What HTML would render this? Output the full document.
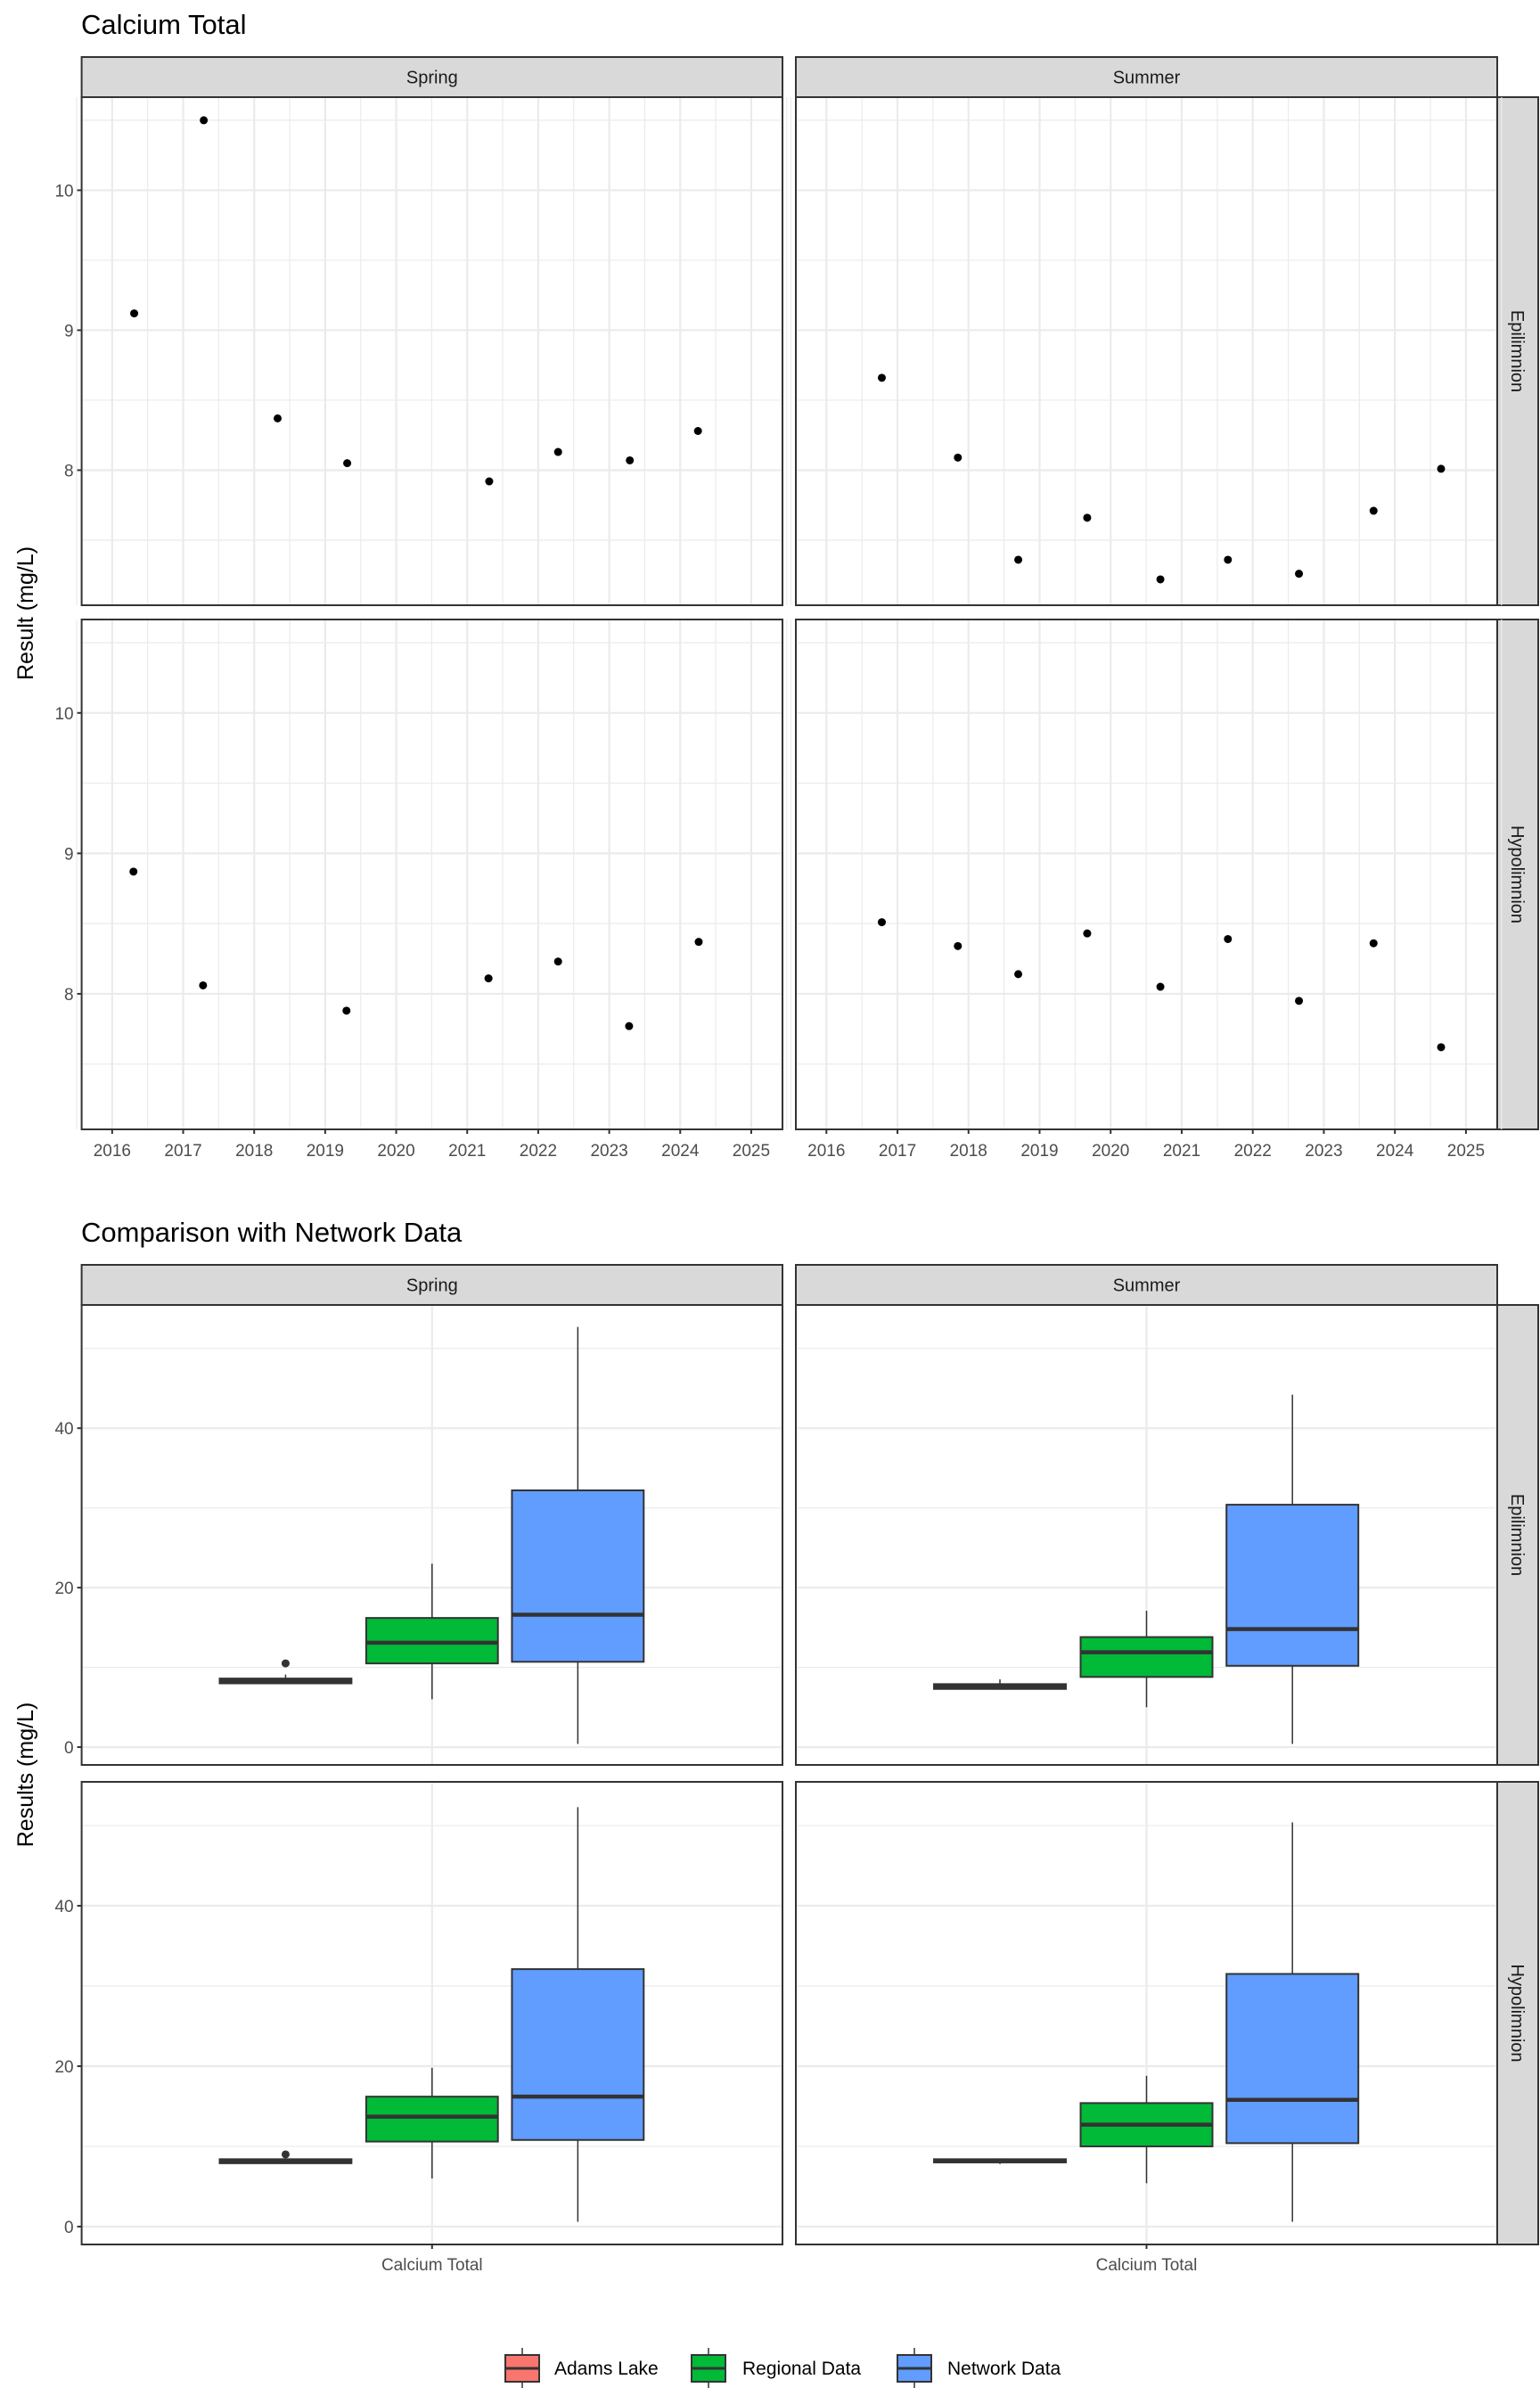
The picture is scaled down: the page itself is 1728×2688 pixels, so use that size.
<!DOCTYPE html>
<html><head><meta charset="utf-8"><style>
body{margin:0;background:#fff}
svg{display:block;font-family:"Liberation Sans",Arial,sans-serif}
</style></head><body>
<svg id="c" width="1728" height="2688" viewBox="0 0 1728 2688"></svg>
<script>
// ---- Data: scatter ----
const seasons = ["Spring","Summer"];
const layers = ["Epilimnion","Hypolimnion"];
const xTicks = [2016,2017,2018,2019,2020,2021,2022,2023,2024,2025];
const yTicksScatter = [8,9,10];
const springEpiYears = [2016.31,2017.29,2018.33,2019.31,2021.31,2022.28,2023.29,2024.25];
const springEpiVals = [9.12,10.5,8.37,8.05,7.92,8.13,8.07,8.28];
const summerEpiYears = [2016.78,2017.85,2018.7,2019.67,2020.7,2021.65,2022.65,2023.7,2024.65];
const summerEpiVals = [8.66,8.09,7.36,7.66,7.22,7.36,7.26,7.71,8.01];
const springHypoYears = [2016.3,2017.28,2019.3,2021.3,2022.28,2023.28,2024.26];
const springHypoVals = [8.87,8.06,7.88,8.11,8.23,7.77,8.37];
const summerHypoYears = [2016.78,2017.85,2018.7,2019.67,2020.7,2021.65,2022.65,2023.7,2024.65];
const summerHypoVals = [8.51,8.34,8.14,8.43,8.05,8.39,7.95,8.36,7.62];
// ---- Data: boxplots [lowWhisker, q1, median, q3, highWhisker] ----
const groups = ["Adams Lake","Regional Data","Network Data"];
const yTicksBox = [0,20,40];
const springEpiBoxes = [[8.0,8.0,8.3,8.6,9.1],[6.0,10.5,13.1,16.2,23.0],[0.4,10.7,16.6,32.2,52.7]];
const summerEpiBoxes = [[7.2,7.3,7.6,7.9,8.5],[5.0,8.8,11.9,13.8,17.1],[0.4,10.2,14.8,30.4,44.2]];
const springHypoBoxes = [[7.8,7.9,8.2,8.4,8.5],[6.0,10.6,13.7,16.2,19.8],[0.6,10.8,16.2,32.1,52.3]];
const summerHypoBoxes = [[7.8,8.0,8.2,8.4,8.5],[5.4,10.0,12.7,15.4,18.8],[0.6,10.4,15.8,31.5,50.4]];
const springEpiOutliers = [10.5];
const springHypoOutliers = [9.0];
const noOutliers = [];

const NS="http://www.w3.org/2000/svg";
const svg=document.getElementById('c');
function mk(tag,attrs,parent){const e=document.createElementNS(NS,tag);for(const k in attrs)e.setAttribute(k,attrs[k]);(parent||svg).appendChild(e);return e;}
function txt(s,attrs){const e=mk('text',attrs);e.textContent=s;return e;}

const colX=[[91.6,878],[893,1680]];
const fills=["#F8766D","#00BA38","#619CFF"];

// Titles
let t=txt("Calcium Total",{x:91,y:38,'font-size':31,fill:'#000'});


t=txt("Comparison with Network Data",{x:91,y:1393,'font-size':31,fill:'#000'});


t=txt("Result (mg/L)",{x:0,y:0,'font-size':25,fill:'#000','text-anchor':'middle',transform:'translate(37,688) rotate(-90)'});


t=txt("Results (mg/L)",{x:0,y:0,'font-size':25,fill:'#000','text-anchor':'middle',transform:'translate(37,1991) rotate(-90)'});



function strips(topY,botY,rowRanges,prefix){
  seasons.forEach((s,i)=>{
    const [x0,x1]=colX[i];
    const r=mk('rect',{x:x0,y:topY,width:x1-x0,height:botY-topY,fill:'#d9d9d9',stroke:'#333','stroke-width':2});
    
    
    const l=txt(s,{x:(x0+x1)/2,y:(topY+botY)/2+7,'font-size':20,fill:'#1a1a1a','text-anchor':'middle'});
    
    
  });
  layers.forEach((ly,j)=>{
    const [y0,y1]=rowRanges[j];
    const r=mk('rect',{x:1680,y:y0,width:46,height:y1-y0,fill:'#d9d9d9',stroke:'#333','stroke-width':2});
    
    
    const l=txt(ly,{x:0,y:0,'font-size':20,fill:'#1a1a1a','text-anchor':'middle',transform:`translate(1696,${(y0+y1)/2}) rotate(90)`});
    
    
  });
}

// ---- Scatter ----
const sRows=[[109,679],[695,1267]];
const yDom=[7.035,10.665], xDom=[2015.57,2025.44];
function sx(v,c){const [x0,x1]=colX[c];return x0+(v-xDom[0])/(xDom[1]-xDom[0])*(x1-x0);}
function sy(v,r){const [y0,y1]=sRows[r];return y1-(v-yDom[0])/(yDom[1]-yDom[0])*(y1-y0);}
strips(64,109,sRows,'scatter');
const sData=[[[springEpiYears,springEpiVals],[summerEpiYears,summerEpiVals]],[[springHypoYears,springHypoVals],[summerHypoYears,summerHypoVals]]];
for(let r=0;r<2;r++)for(let c=0;c<2;c++){
  const [x0,x1]=colX[c],[y0,y1]=sRows[r];
  const p=mk('rect',{x:x0,y:y0,width:x1-x0,height:y1-y0,fill:'#fff'});
  
  
  xTicks.forEach(v=>{
    mk('line',{x1:sx(v+0.5,c),x2:sx(v+0.5,c),y1:y0,y2:y1,stroke:'#ebebeb','stroke-width':1.2});
    mk('line',{x1:sx(v,c),x2:sx(v,c),y1:y0,y2:y1,stroke:'#ebebeb','stroke-width':2.2});
  });
  mk('line',{x1:sx(2015.5,c),x2:sx(2015.5,c),y1:y0,y2:y1,stroke:'#ebebeb','stroke-width':1.2});
  [7.5,8.5,9.5,10.5].forEach(v=>mk('line',{x1:x0,x2:x1,y1:sy(v,r),y2:sy(v,r),stroke:'#ebebeb','stroke-width':1.2}));
  yTicksScatter.forEach(v=>mk('line',{x1:x0,x2:x1,y1:sy(v,r),y2:sy(v,r),stroke:'#ebebeb','stroke-width':2.2}));
  const [xs,vs]=sData[r][c];
  xs.forEach((yr,i)=>{
    const d=mk('circle',{cx:sx(yr,c),cy:sy(vs[i],r),r:4.5,fill:'#000'});
    
    
  });
  const b=mk('rect',{x:x0,y:y0,width:x1-x0,height:y1-y0,fill:'none',stroke:'#333','stroke-width':2});
  
  
  if(c===0){
    yTicksScatter.forEach(v=>{
      mk('line',{x1:x0-5,x2:x0,y1:sy(v,r),y2:sy(v,r),stroke:'#333','stroke-width':2});
      const l=txt(String(v),{x:x0-9,y:sy(v,r)+7,'font-size':19,fill:'#4d4d4d','text-anchor':'end'});
      
      
    });
  }
  if(r===1){
    xTicks.forEach(v=>{
      mk('line',{x1:sx(v,c),x2:sx(v,c),y1:y1,y2:y1+5,stroke:'#333','stroke-width':2});
      const l=txt(String(v),{x:sx(v,c),y:1297,'font-size':19,fill:'#4d4d4d','text-anchor':'middle'});
      
      
    });
  }
}

// ---- Boxplots ----
const bRows=[[1464,1980],[1999,2518]];
const bDom=[-2.23,55.45];
const centers=[0.291,0.5,0.708], bw=0.188;
function by(v,r){const [y0,y1]=bRows[r];return y1-(v-bDom[0])/(bDom[1]-bDom[0])*(y1-y0);}
function bx(f,c){const [x0,x1]=colX[c];return x0+f*(x1-x0);}
strips(1419,1464,bRows,'boxplot');
const bData=[[springEpiBoxes,summerEpiBoxes],[springHypoBoxes,summerHypoBoxes]];
const bOut=[[springEpiOutliers,noOutliers],[springHypoOutliers,noOutliers]];
for(let r=0;r<2;r++)for(let c=0;c<2;c++){
  const [x0,x1]=colX[c],[y0,y1]=bRows[r];
  const p=mk('rect',{x:x0,y:y0,width:x1-x0,height:y1-y0,fill:'#fff'});
  
  
  [10,30,50].forEach(v=>mk('line',{x1:x0,x2:x1,y1:by(v,r),y2:by(v,r),stroke:'#ebebeb','stroke-width':1.2}));
  yTicksBox.forEach(v=>mk('line',{x1:x0,x2:x1,y1:by(v,r),y2:by(v,r),stroke:'#ebebeb','stroke-width':2.2}));
  mk('line',{x1:bx(0.5,c),x2:bx(0.5,c),y1:y0,y2:y1,stroke:'#ebebeb','stroke-width':2.2});
  bData[r][c].forEach((s,g)=>{
    const cx=bx(centers[g],c), hw=bw/2*(x1-x0);
    const w1=mk('line',{x1:cx,x2:cx,y1:by(s[4],r),y2:by(s[3],r),stroke:'#333','stroke-width':1.5});
    
    
    const w2=mk('line',{x1:cx,x2:cx,y1:by(s[1],r),y2:by(s[0],r),stroke:'#333','stroke-width':1.5});
    
    
    const bx_=mk('rect',{x:cx-hw,y:by(s[3],r),width:2*hw,height:Math.max(by(s[1],r)-by(s[3],r),1),fill:fills[g],stroke:'#333','stroke-width':2});
    
    
    mk('line',{x1:cx-hw,x2:cx+hw,y1:by(s[2],r),y2:by(s[2],r),stroke:'#333','stroke-width':4.5});
  });
  bOut[r][c].forEach(v=>{
    const o=mk('circle',{cx:bx(centers[0],c),cy:by(v,r),r:4.5,fill:'#333'});
    
    
  });
  const b=mk('rect',{x:x0,y:y0,width:x1-x0,height:y1-y0,fill:'none',stroke:'#333','stroke-width':2});
  
  
  if(c===0){
    yTicksBox.forEach(v=>{
      mk('line',{x1:x0-5,x2:x0,y1:by(v,r),y2:by(v,r),stroke:'#333','stroke-width':2});
      const l=txt(String(v),{x:x0-9,y:by(v,r)+7,'font-size':19,fill:'#4d4d4d','text-anchor':'end'});
      
      
    });
  }
  if(r===1){
    mk('line',{x1:bx(0.5,c),x2:bx(0.5,c),y1:y1,y2:y1+5,stroke:'#333','stroke-width':2});
    const l=txt("Calcium Total",{x:bx(0.5,c),y:2547,'font-size':19,fill:'#4d4d4d','text-anchor':'middle'});
    
    
  }
}

// ---- Legend ----
const legKeyX=[567,776,1007], legTextX=[622,833,1063];
groups.forEach((g,i)=>{
  const kx=legKeyX[i];
  const grp=mk('g',{});
  
  
  mk('line',{x1:kx+19,x2:kx+19,y1:2634,y2:2679,stroke:'#333','stroke-width':1.5},grp);
  mk('rect',{x:kx,y:2642,width:38,height:30,fill:fills[i],stroke:'#333','stroke-width':2},grp);
  mk('line',{x1:kx,x2:kx+38,y1:2657,y2:2657,stroke:'#333','stroke-width':3},grp);
  const l=mk('text',{x:legTextX[i],y:2664,'font-size':21,fill:'#000'},grp);
  l.textContent=g;
});
</script>
</body></html>
